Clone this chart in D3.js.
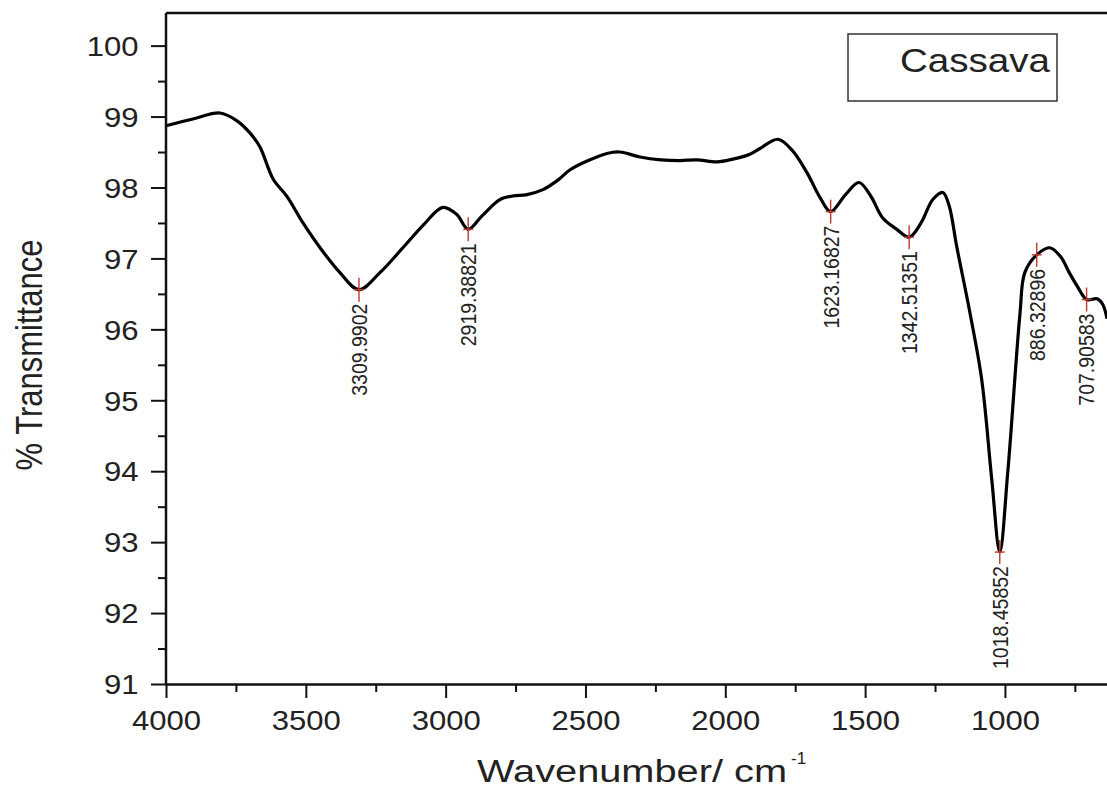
<!DOCTYPE html>
<html>
<head>
<meta charset="utf-8">
<script src="https://cdn.jsdelivr.net/npm/d3@7"></script>
<style>
  body { margin: 0; background: #fff; }
  svg text { font-family: "Liberation Sans", Arial, sans-serif; fill: #222; }
</style>
</head>
<body>
<div id="chart"></div>
<script>
// FTIR spectrum of cassava
const wavenumber = [4000, 3900, 3807, 3750, 3700, 3664, 3617, 3567, 3510, 3449, 3378, 3310, 3235, 3153, 3080, 3010, 2960, 2919.39, 2870, 2806, 2760, 2709, 2652, 2600, 2555, 2490, 2423, 2377, 2305, 2230, 2162, 2101, 2030, 1973, 1912, 1876, 1812, 1762, 1708, 1660, 1623.17, 1570, 1522, 1480, 1437, 1390, 1342.51, 1300, 1258, 1222, 1200, 1172, 1125, 1083, 1047, 1018.46, 990, 946, 929, 886.33, 840, 800, 770, 740, 707.91, 670, 650, 635];
const transmittance = [98.87, 98.97, 99.05, 98.95, 98.77, 98.57, 98.12, 97.87, 97.5, 97.15, 96.8, 96.56, 96.8, 97.15, 97.47, 97.72, 97.62, 97.41, 97.6, 97.83, 97.88, 97.9, 97.97, 98.1, 98.25, 98.38, 98.48, 98.5, 98.43, 98.39, 98.38, 98.39, 98.36, 98.4, 98.47, 98.55, 98.68, 98.53, 98.21, 97.85, 97.66, 97.9, 98.07, 97.88, 97.57, 97.42, 97.3, 97.5, 97.83, 97.93, 97.75, 97.16, 96.23, 95.29, 93.88, 92.86, 93.98, 96.23, 96.8, 97.05, 97.15, 97.02, 96.8, 96.6, 96.42, 96.43, 96.35, 96.15];

// picked peaks
const peakWavenumber = [3309.9902, 2919.38821, 1623.16827, 1342.51351, 1018.45852, 886.32896, 707.90583];
const peakTransmittance = [96.56, 97.41, 97.66, 97.3, 92.86, 97.05, 96.42];
const peakLabels = ['3309.9902', '2919.38821', '1623.16827', '1342.51351', '1018.45852', '886.32896', '707.90583'];

const xTicks = [4000, 3500, 3000, 2500, 2000, 1500, 1000];
const xMinorTicks = [3750, 3250, 2750, 2250, 1750, 1250, 750];
const yTicks = [91, 92, 93, 94, 95, 96, 97, 98, 99, 100];
const yMinorTicks = [91.5, 92.5, 93.5, 94.5, 95.5, 96.5, 97.5, 98.5, 99.5];
const legendLabel = 'Cassava';

const width = 1107, height = 789;
const plotLeft = 166, plotRight = 1107, plotTop = 13, plotBottom = 684;

const svg = d3.select('#chart').append('svg')
    .attr('width', width)
    .attr('height', height);

const x = d3.scaleLinear().domain([4000, 635]).range([plotLeft, plotRight]);
const y = d3.scaleLinear().domain([91, 100.46]).range([plotBottom, plotTop]);

// minor ticks first, majors over them
svg.append('g')
    .attr('transform', `translate(0,${plotBottom})`)
    .call(d3.axisBottom(x).tickValues(xMinorTicks).tickSize(8).tickFormat(''))
    .call(g => g.select('.domain').remove())
    .call(g => g.selectAll('line').attr('stroke', '#111').attr('stroke-width', 2));

svg.append('g')
    .attr('transform', `translate(${plotLeft},0)`)
    .call(d3.axisLeft(y).tickValues(yMinorTicks).tickSize(8).tickFormat(''))
    .call(g => g.select('.domain').remove())
    .call(g => g.selectAll('line').attr('stroke', '#111').attr('stroke-width', 2));

const xAxis = svg.append('g')
    .attr('transform', `translate(0,${plotBottom})`)
    .call(d3.axisBottom(x).tickValues(xTicks).tickSize(14).tickSizeOuter(0).tickFormat(d3.format('d')));
xAxis.select('.domain').attr('stroke', '#111').attr('stroke-width', 2.5);
xAxis.selectAll('line').attr('stroke', '#111').attr('stroke-width', 2);
xAxis.selectAll('text')
    .attr('y', 46).attr('dy', 0)
    .attr('font-size', 27)
    .attr('transform', 'scale(1.15,1)')
    .attr('fill', '#222');

const yAxis = svg.append('g')
    .attr('transform', `translate(${plotLeft},0)`)
    .call(d3.axisLeft(y).tickValues(yTicks).tickSize(15).tickSizeOuter(0));
yAxis.select('.domain').remove();
yAxis.selectAll('line').attr('stroke', '#111').attr('stroke-width', 2);
yAxis.selectAll('text')
    .attr('x', -24).attr('dy', '0.36em')
    .attr('font-size', 27)
    .attr('transform', 'scale(1.15,1)')
    .attr('fill', '#222');

// frame: left axis line and top border
svg.append('line')
    .attr('x1', plotLeft).attr('x2', plotLeft).attr('y1', plotTop).attr('y2', plotBottom + 1)
    .attr('stroke', '#111').attr('stroke-width', 2.5);
svg.append('line')
    .attr('x1', plotLeft).attr('x2', plotRight).attr('y1', plotTop).attr('y2', plotTop)
    .attr('stroke', '#111').attr('stroke-width', 2.5);

// spectrum
const spectrum = wavenumber.map((w, i) => ({ w: w, t: transmittance[i] }));
const line = d3.line()
    .x(d => x(d.w))
    .y(d => y(d.t))
    .curve(d3.curveCatmullRom.alpha(0.5));

svg.append('path')
    .datum(spectrum)
    .attr('d', line)
    .attr('fill', 'none')
    .attr('stroke', '#000')
    .attr('stroke-width', 3.2)
    .attr('stroke-linejoin', 'round');

// peak markers and labels
const peaks = peakWavenumber.map((w, i) => ({ w: w, t: peakTransmittance[i], label: peakLabels[i] }));
const pk = svg.selectAll('.peak')
    .data(peaks)
    .enter().append('g')
    .attr('class', 'peak')
    .attr('transform', d => `translate(${x(d.w)},${y(d.t)})`);

pk.append('line')
    .attr('x1', 0).attr('x2', 0).attr('y1', -12).attr('y2', 12)
    .attr('stroke', '#c0392b').attr('stroke-width', 1.4);
pk.append('line')
    .attr('x1', -5).attr('x2', 5).attr('y1', 0).attr('y2', 0)
    .attr('stroke', '#c0392b').attr('stroke-width', 1.4);

pk.append('text')
    .attr('transform', 'translate(0,14) scale(1.15,1) rotate(-90)')
    .attr('text-anchor', 'end')
    .attr('dy', '0.35em')
    .attr('font-size', 19.5)
    .text(d => d.label);

// axis titles
svg.append('text')
    .attr('x', 477).attr('y', 782)
    .attr('font-size', 31)
    .attr('textLength', 310)
    .attr('lengthAdjust', 'spacingAndGlyphs')
    .text('Wavenumber/ cm');
svg.append('text')
    .attr('x', 791).attr('y', 764)
    .attr('font-size', 17)
    .text('-1');

svg.append('text')
    .attr('transform', 'translate(42,355) scale(1.2,1) rotate(-90)')
    .attr('text-anchor', 'middle')
    .attr('font-size', 31)
    .text('% Transmittance');

// legend box
svg.append('rect')
    .attr('x', 848).attr('y', 34)
    .attr('width', 209).attr('height', 67)
    .attr('fill', '#fff')
    .attr('stroke', '#333')
    .attr('stroke-width', 1.5);
svg.append('text')
    .attr('x', 900).attr('y', 72)
    .attr('font-size', 33)
    .attr('textLength', 150)
    .attr('lengthAdjust', 'spacingAndGlyphs')
    .text(legendLabel);
</script>
</body>
</html>
